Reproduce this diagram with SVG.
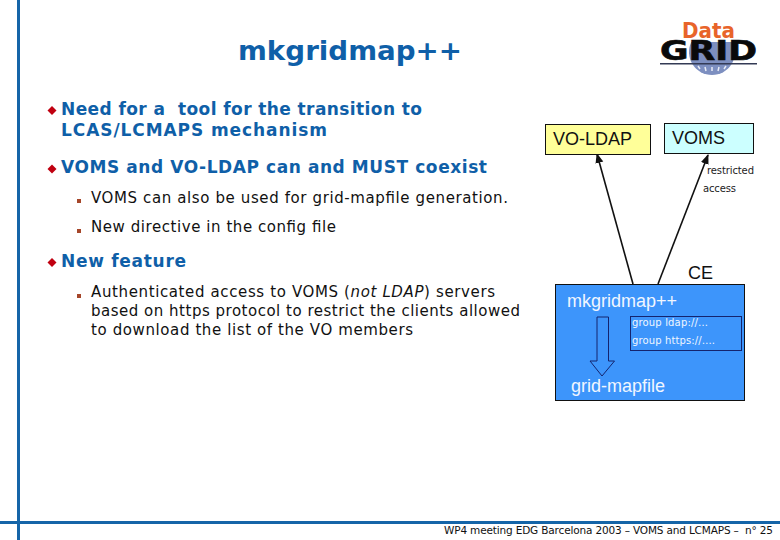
<svg xmlns="http://www.w3.org/2000/svg" width="780" height="540" viewBox="0 0 780 540">
<style>
text{font-family:"DejaVu Sans",Verdana,sans-serif;white-space:pre}
.l1{font-size:17px;font-weight:bold;fill:#0f5fa8}
.l2{font-size:15px;fill:#111}
.b{fill:#c00010}
.s{fill:#a5462a}
.a{font-family:"Liberation Sans",Arial,sans-serif}
.w{fill:#f0f6ff}
.c{stroke:#111;stroke-width:1.6;fill:none}
</style>
<defs><marker id="ah" markerUnits="userSpaceOnUse" markerWidth="10" markerHeight="10" refX="9" refY="4" orient="auto"><path d="M0 0L10 4L0 8Z" fill="#111"/></marker></defs>
<rect width="780" height="540" fill="#fff"/>
<g id="frame" fill="#1565a8"><rect x="17" y="0" width="3" height="540"/><rect x="0" y="521" width="780" height="3"/></g>
<text x="238" y="60" font-size="26" font-weight="bold" fill="#0f5fa8" textLength="224" lengthAdjust="spacingAndGlyphs">mkgridmap++</text>
<g id="logo">
<path d="M691.300 42A23 23 0 1 0 732.700 42Z" fill="#7d8fc0"/>
<path d="M698 66l2 3M705 67l1 4M712 67v4M719 67l-1 4M726 66l-2 3" stroke="#e8ecf6" stroke-width="1.500" fill="none"/>
<text x="682" y="38" font-size="21" font-weight="bold" fill="#e8642a" textLength="53" lengthAdjust="spacingAndGlyphs">Data</text>
<text x="660" y="60" font-size="26" font-weight="bold" fill="#0a0a0a" stroke="#0a0a0a" stroke-width=".6" textLength="97" lengthAdjust="spacingAndGlyphs">GRID</text>
<rect x="660" y="63" width="97" height="1.500" fill="#333a55"/>
</g>
<g id="bullets">
<path class="b" d="M52 106l4.500 4.500l-4.500 4.500l-4.500-4.500z"/>
<path class="b" d="M52 164.500l4.500 4.500l-4.500 4.500l-4.500-4.500z"/>
<path class="b" d="M52 258l4.500 4.500l-4.500 4.500l-4.500-4.500z"/>
<rect class="s" x="77" y="199" width="4" height="4"/>
<rect class="s" x="77" y="229" width="4" height="4"/>
<rect class="s" x="77" y="294" width="4" height="4"/>
<text class="l1" x="61" y="115" textLength="361" lengthAdjust="spacing">Need for a  tool for the transition to</text>
<text class="l1" x="61" y="136" textLength="266" lengthAdjust="spacing">LCAS/LCMAPS mechanism</text>
<text class="l1" x="61" y="173" textLength="426" lengthAdjust="spacing">VOMS and VO-LDAP can and MUST coexist</text>
<text class="l2" x="91" y="203" textLength="417" lengthAdjust="spacing">VOMS can also be used for grid-mapfile generation.</text>
<text class="l2" x="91" y="232" textLength="245" lengthAdjust="spacing">New directive in the config file</text>
<text class="l1" x="61" y="267" textLength="125" lengthAdjust="spacing">New feature</text>
<text class="l2" x="91" y="297" textLength="404" lengthAdjust="spacing">Authenticated access to VOMS (<tspan font-style="italic">not LDAP</tspan>) servers</text>
<text class="l2" x="91" y="316" textLength="429" lengthAdjust="spacing">based on https protocol to restrict the clients allowed</text>
<text class="l2" x="91" y="335" textLength="322" lengthAdjust="spacing">to download the list of the VO members</text>
</g>
<g id="connectors">
<path class="c" d="M633 284L597 154" marker-end="url(#ah)"/>
<path class="c" d="M658 284L708 155" marker-end="url(#ah)"/>
</g>
<g id="vo-ldap"><rect x="545.500" y="124.500" width="105" height="30" fill="#ffff99" stroke="#111"/><text class="a" x="553" y="145" font-size="18" fill="#111">VO-LDAP</text></g>
<g id="voms"><rect x="664.500" y="123.500" width="89" height="30" fill="#ccffff" stroke="#111"/><text class="a" x="672" y="144" font-size="18" fill="#111">VOMS</text></g>
<g id="restricted-access" font-size="10" fill="#222"><text x="707" y="174" textLength="47">restricted</text><text x="703" y="192" textLength="33">access</text></g>
<g id="ce">
<text class="a" x="688" y="279" font-size="18" fill="#111">CE</text>
<rect x="555.500" y="284.500" width="189" height="116" fill="#3d95fb" stroke="#111"/>
<text class="a w" x="567" y="307" font-size="18">mkgridmap++</text>
<rect x="630.500" y="316.500" width="111" height="34" fill="none" stroke="#14246e"/>
<text class="w" x="632" y="326" font-size="10" textLength="76">group ldap://…</text>
<text class="w" x="632" y="344" font-size="10" textLength="83">group https://….</text>
<path d="M597 317H608.500V361H614.500L602 376L590 361H597Z" fill="none" stroke="#14246e"/>
<text class="a w" x="571" y="392" font-size="18">grid-mapfile</text>
</g>
<text id="footer" x="444" y="534" font-size="10.500" fill="#111" textLength="329" lengthAdjust="spacing">WP4 meeting EDG Barcelona 2003 – VOMS and LCMAPS –  n° 25</text>
</svg>
